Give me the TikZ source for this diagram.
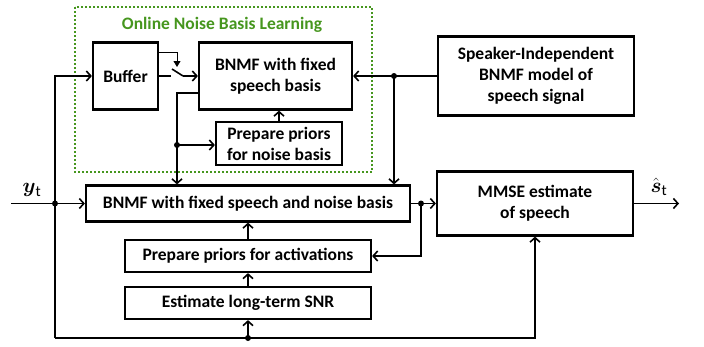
\documentclass[tikz,border=0pt]{standalone}
\usepackage{amsmath}
\usepackage{fontspec}
\setmainfont{Carlito}
\usetikzlibrary{arrows.meta}
\definecolor{grn}{RGB}{70,150,30}
\tikzset{
  box/.style={draw, line width=2.2pt, align=center, inner sep=0pt,
    font=\bfseries\fontsize{17.5}{21}\selectfont},
  conn/.style={line width=1.6pt, -{Straight Barb[length=4.5pt,width=10pt,line width=1.6pt]}},
  wire/.style={line width=1.6pt},
  ctrl/.style={line width=0.8pt, -{Triangle[length=6pt,width=7pt]}},
  jdot/.style={circle, fill, inner sep=0pt, minimum size=6pt},
  grp/.style={draw=grn, line width=2pt, dash pattern=on 2pt off 2pt},
}
\begin{document}
\begin{tikzpicture}[x=1pt,y=-1pt]
\useasboundingbox (0,0) rectangle (704,346);
% group
\draw[grp] (75,7) rectangle (372,172);
\node[text=grn, font=\bfseries\fontsize{17.5}{21}\selectfont] (gtitle) at (222,25) {Online Noise Basis Learning};
% boxes
\node[box, minimum width=65pt, minimum height=67pt] (buf) at (125.5,76) {Buffer};
\node[box, minimum width=153pt, minimum height=67pt] (bf) at (275.5,76) {BNMF with fixed\\speech basis};
\node[box, minimum width=126pt, minimum height=43pt] (ppn) at (279,143.5) {Prepare priors\\for noise basis};
\node[box, minimum width=196pt, minimum height=79pt] (si) at (536,76) {Speaker-Independent\\BNMF model of\\speech signal};
\node[box, minimum width=324pt, minimum height=36pt] (big) at (248,203.5) {BNMF with fixed speech and noise basis};
\node[box, minimum width=246pt, minimum height=32pt] (ppa) at (248,256) {Prepare priors for activations};
\node[box, minimum width=246pt, minimum height=32pt] (snr) at (248,303) {Estimate long-term SNR};
\node[box, minimum width=196pt, minimum height=64pt] (mmse) at (535,203.5) {MMSE estimate\\of speech};
% labels
\node (ylab) at (32,190) {\fontsize{22}{22}\selectfont$\boldsymbol{y}_{\mathrm{t}}$};
\node (slab) at (659,187) {\fontsize{22}{22}\selectfont$\hat{\boldsymbol{s}}_{\mathrm{t}}$};
% coordinates
\coordinate (yin) at (11,203.5);
\coordinate (d1) at (55,203.5);
\coordinate (c1) at (55,338);
\coordinate (d3) at (248,338);
\coordinate (d4) at (421,203.5);
\coordinate (d5) at (394,76);
\coordinate (tap) at (177,145);
\coordinate (sout) at (679,203.5);
\coordinate (sw1) at (171,76);
\coordinate (sw2) at (172,69);
\coordinate (sw3) at (183,76);
% connectors
\draw[conn] (yin) -- (big.west);
\draw[conn] (c1) |- (buf.west);
\draw[conn] (c1) -| (mmse.south);
\draw[conn] (d3) -- (snr.south);
\draw[conn] (snr.north) -- (ppa.south);
\draw[conn] (ppa.north) -- (big.south);
\draw[conn] (big.east) -- (mmse.west);
\draw[conn] (d4) |- (ppa.east);
\draw[conn] (mmse.east) -- (sout);
\draw[conn] (si.west) -- (bf.east);
\draw[conn] (d5) -- (d5 |- big.north);
\draw[wire] ([yshift=-17pt]bf.west) -| (tap);
\draw[conn] (tap) -- (tap |- big.north);
\draw[conn] (tap) -- (tap -| ppn.west);
\draw[conn] (ppn.north) -- (ppn.north |- bf.south);
\draw[wire] (buf.east) -- (sw1);
\draw[wire] (sw2) -- (sw3);
\draw[conn] (sw3) -- (bf.west);
\draw[ctrl] ([yshift=24pt]buf.east) -| ([yshift=9pt]sw3 -| tap);
% dots
\node[jdot] (n1) at (d1) {};
\node[jdot] (n3) at (d3) {};
\node[jdot] (n4) at (d4) {};
\node[jdot] (n5) at (d5) {};
\node[jdot] (nt) at (tap) {};
\end{tikzpicture}
\end{document}
